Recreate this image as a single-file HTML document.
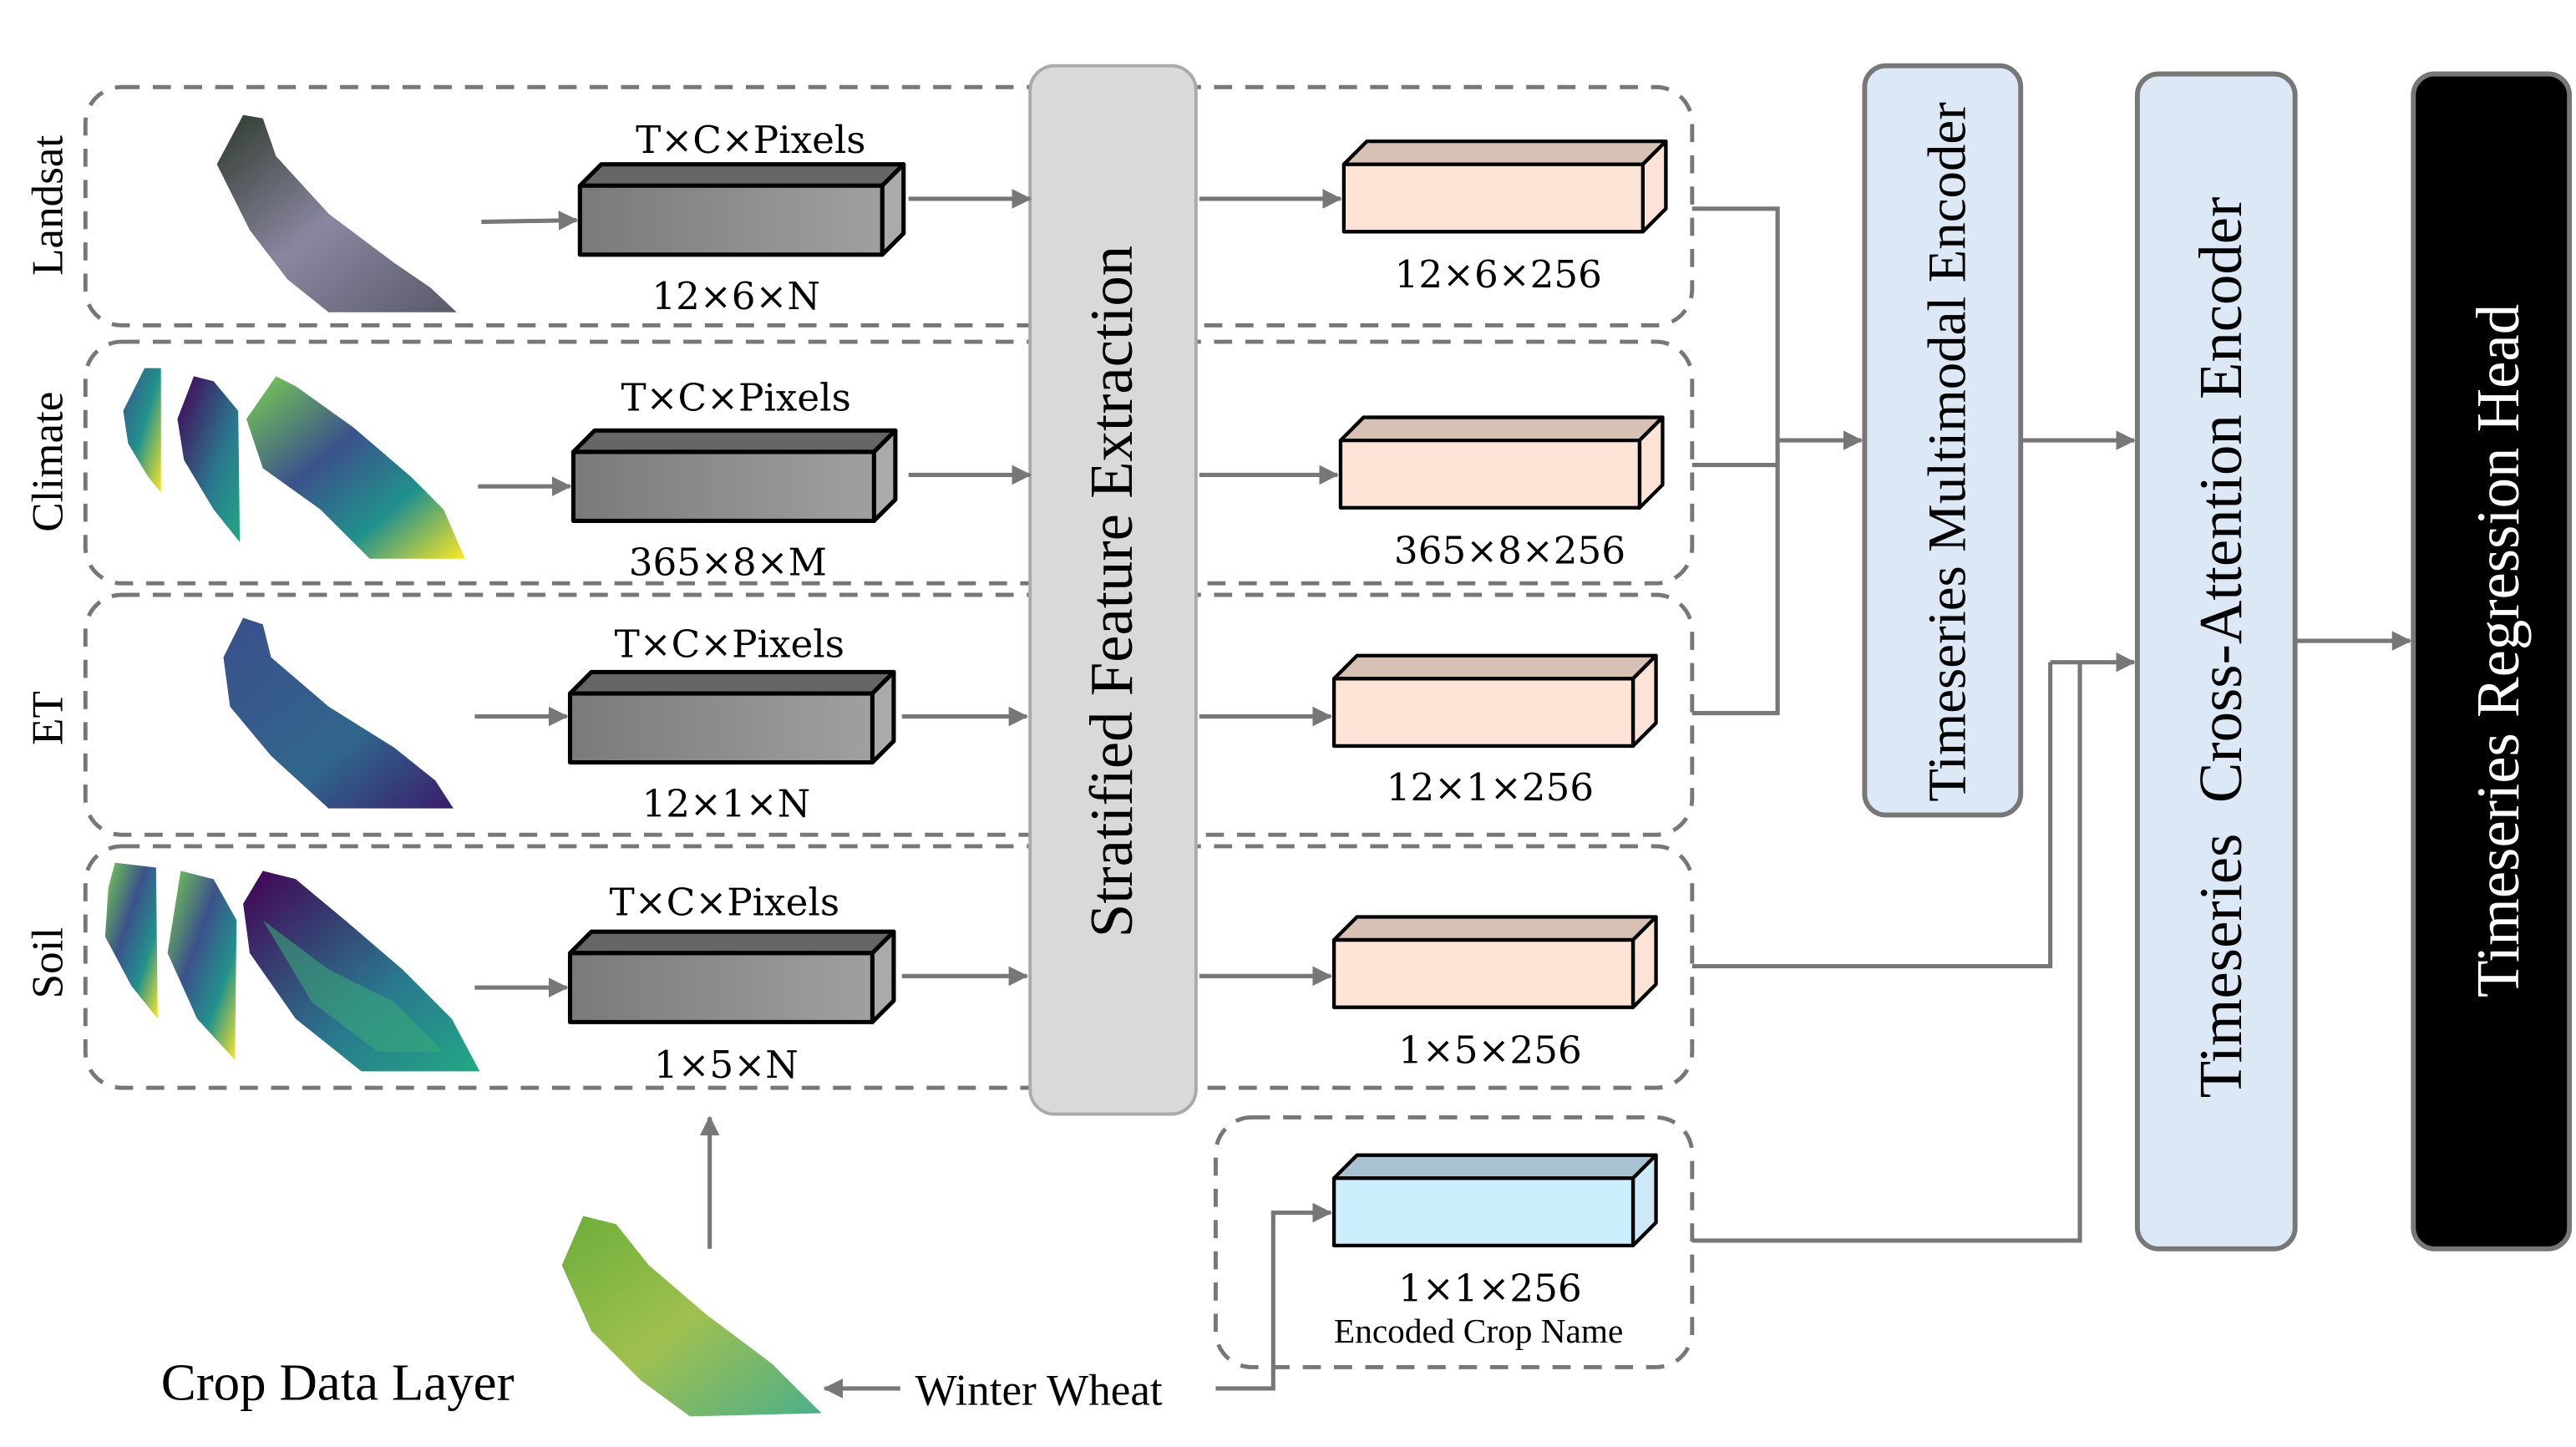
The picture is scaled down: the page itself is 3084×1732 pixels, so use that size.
<!DOCTYPE html>
<html><head><meta charset="utf-8"><style>html,body{margin:0;padding:0;background:#fff;}svg{display:block}</style></head>
<body>
<svg xmlns="http://www.w3.org/2000/svg" width="3084" height="1732" viewBox="0 0 1568 880.6" preserveAspectRatio="none" font-family="'Liberation Serif', serif">
<defs>
<linearGradient id="gf" x1="0" x2="1"><stop offset="0" stop-color="#7a7a7a"/><stop offset="1" stop-color="#a0a0a0"/></linearGradient>
<linearGradient id="vir" x1="0" y1="0" x2="1" y2="1"><stop offset="0" stop-color="#3b528b"/><stop offset="0.5" stop-color="#21918c"/><stop offset="1" stop-color="#fde725"/></linearGradient>
<linearGradient id="vir2" x1="0" y1="0" x2="1" y2="1"><stop offset="0" stop-color="#440154"/><stop offset="0.6" stop-color="#2a788e"/><stop offset="1" stop-color="#22a884"/></linearGradient>
<linearGradient id="vir3" x1="0" y1="0" x2="1" y2="1"><stop offset="0" stop-color="#7ad151"/><stop offset="0.4" stop-color="#3b528b"/><stop offset="0.7" stop-color="#21918c"/><stop offset="1" stop-color="#fde725"/></linearGradient>
<linearGradient id="sat" x1="0" y1="0" x2="1" y2="1"><stop offset="0" stop-color="#2e3a2c"/><stop offset="0.5" stop-color="#8a86a0"/><stop offset="1" stop-color="#5a5a6a"/></linearGradient>
<linearGradient id="et" x1="0" y1="0" x2="1" y2="1"><stop offset="0" stop-color="#3b4f8b"/><stop offset="0.6" stop-color="#30668d"/><stop offset="1" stop-color="#3a1d6b"/></linearGradient>
<linearGradient id="cdl" x1="0" y1="0" x2="1" y2="1"><stop offset="0" stop-color="#6cae3a"/><stop offset="0.5" stop-color="#a0c050"/><stop offset="1" stop-color="#4caf8a"/></linearGradient>
<marker id="ar2" markerWidth="12" markerHeight="12" refX="11" refY="6" orient="auto" markerUnits="userSpaceOnUse"><path d="M0,0 L12,6 L0,12 z" fill="#777"/></marker>
</defs>

<g fill="none" stroke="#777" stroke-width="2.5" stroke-dasharray="11,8">
<rect x="52" y="53" width="978" height="145" rx="22"/>
<rect x="52" y="208" width="978" height="147" rx="22"/>
<rect x="52" y="362" width="978" height="146" rx="22"/>
<rect x="52" y="515" width="978" height="147" rx="22"/>
<rect x="740" y="680" width="290" height="152" rx="22"/>
</g>

<g font-size="27" text-anchor="middle" fill="#000">
<text transform="translate(38,125) rotate(-90)">Landsat</text>
<text transform="translate(38,281) rotate(-90)">Climate</text>
<text transform="translate(38,437) rotate(-90)">ET</text>
<text transform="translate(38,586) rotate(-90)">Soil</text>
</g>

<path d="M148,70 L160,72 L168,95 L200,130 L240,160 L262,175 L278,190 L200,190 L175,170 L152,140 L132,100 Z" fill="url(#sat)"/>
<path d="M88,224 L98,224 L98,300 L90,290 L78,270 L75,250 Z" fill="url(#vir)"/>
<path d="M118,229 L130,232 L145,250 L146,330 L130,310 L112,280 L108,255 Z" fill="url(#vir2)"/>
<path d="M168,229 L180,235 L215,260 L250,290 L270,310 L283,340 L225,340 L195,310 L160,285 L150,255 Z" fill="url(#vir3)"/>
<path d="M148,376 L160,380 L165,400 L200,430 L240,455 L265,475 L276,492 L200,492 L165,460 L140,430 L136,400 Z" fill="url(#et)"/>
<path d="M70,525 L95,528 L96,620 L80,600 L64,570 L66,540 Z" fill="url(#vir3)"/>
<path d="M110,530 L130,535 L144,560 L143,645 L120,620 L102,580 Z" fill="url(#vir3)"/>
<path d="M160,530 L180,535 L210,560 L245,590 L275,620 L292,652 L220,652 L180,620 L152,580 L148,550 Z" fill="url(#vir2)"/>
<path d="M160,560 L200,590 L240,610 L270,640 L230,640 L190,610 Z" fill="#3aa77a" opacity="0.6"/>
<path d="M355,740 L375,745 L395,770 L430,800 L470,830 L500,860 L420,862 L390,840 L360,810 L342,770 Z" fill="url(#cdl)"/>

<g stroke="#000" stroke-width="2.6" stroke-linejoin="round">
<path d="M353,113 L366,100 L550,100 L537,113 Z" fill="#666"/><path d="M537,113 L550,100 L550,142 L537,155 Z" fill="#aaa"/><rect x="353" y="113" width="184" height="42" fill="url(#gf)"/>
<path d="M349,275 L362,262 L545,262 L532,275 Z" fill="#666"/><path d="M532,275 L545,262 L545,304 L532,317 Z" fill="#aaa"/><rect x="349" y="275" width="183" height="42" fill="url(#gf)"/>
<path d="M347,422 L360,409 L544,409 L531,422 Z" fill="#666"/><path d="M531,422 L544,409 L544,451 L531,464 Z" fill="#aaa"/><rect x="347" y="422" width="184" height="42" fill="url(#gf)"/>
<path d="M347,580 L360,567 L544,567 L531,580 Z" fill="#666"/><path d="M531,580 L544,567 L544,609 L531,622 Z" fill="#aaa"/><rect x="347" y="580" width="184" height="42" fill="url(#gf)"/>
</g>
<g stroke="#000" stroke-width="2.2" stroke-linejoin="round">
<path d="M818,100 L832,86 L1014,86 L1000,100 Z" fill="#d7c0b4"/><path d="M1000,100 L1014,86 L1014,127 L1000,141 Z" fill="#fce3d6"/><rect x="818" y="100" width="182" height="41" fill="#fde4d6"/>
<path d="M816,268 L830,254 L1012,254 L998,268 Z" fill="#d7c0b4"/><path d="M998,268 L1012,254 L1012,295 L998,309 Z" fill="#fce3d6"/><rect x="816" y="268" width="182" height="41" fill="#fde4d6"/>
<path d="M812,413 L826,399 L1008,399 L994,413 Z" fill="#d7c0b4"/><path d="M994,413 L1008,399 L1008,440 L994,454 Z" fill="#fce3d6"/><rect x="812" y="413" width="182" height="41" fill="#fde4d6"/>
<path d="M812,572 L826,558 L1008,558 L994,572 Z" fill="#d7c0b4"/><path d="M994,572 L1008,558 L1008,599 L994,613 Z" fill="#fce3d6"/><rect x="812" y="572" width="182" height="41" fill="#fde4d6"/>
<path d="M812,717 L826,703 L1008,703 L994,717 Z" fill="#a9c2d2"/><path d="M994,717 L1008,703 L1008,744 L994,758 Z" fill="#cde9f8"/><rect x="812" y="717" width="182" height="41" fill="#cdeefc"/>
</g>

<g font-family="'DejaVu Serif', 'Liberation Serif', serif" font-size="23" text-anchor="middle" fill="#000">
<text x="457" y="93">T×C×Pixels</text><text x="448" y="188">12×6×N</text>
<text x="448" y="250">T×C×Pixels</text><text x="443" y="350">365×8×M</text>
<text x="444" y="400">T×C×Pixels</text><text x="442" y="497">12×1×N</text>
<text x="441" y="557">T×C×Pixels</text><text x="442" y="656">1×5×N</text>
<text x="912" y="175">12×6×256</text>
<text x="919" y="343">365×8×256</text>
<text x="907" y="487">12×1×256</text>
<text x="907" y="647">1×5×256</text>
<text x="907" y="792">1×1×256</text>
<text x="900" y="817" font-size="21" font-family="'Liberation Serif', serif">Encoded Crop Name</text>
</g>

<rect x="627" y="40" width="101" height="638" rx="15" fill="#d9d9d9" stroke="#aaa" stroke-width="2"/>
<text transform="translate(689,360) rotate(-90)" font-size="37" text-anchor="middle">Stratified Feature Extraction</text>

<rect x="1135" y="40" width="95" height="456" rx="13" fill="#dce8f5" stroke="#777" stroke-width="3"/>
<text transform="translate(1196,275) rotate(-90)" font-size="33" text-anchor="middle">Timeseries Multimodal Encoder</text>
<rect x="1301" y="45" width="96" height="715" rx="13" fill="#dce8f5" stroke="#777" stroke-width="3"/>
<text transform="translate(1364,394) rotate(-90)" font-size="37" text-anchor="middle" xml:space="preserve">Timeseries  Cross-Attention Encoder</text>
<rect x="1469" y="45" width="95" height="715" rx="13" fill="#000" stroke="#777" stroke-width="3"/>
<text transform="translate(1533,396) rotate(-90)" font-size="37" text-anchor="middle" fill="#fff">Timeseries Regression Head</text>

<g stroke="#777" stroke-width="2.6" fill="none">
<line x1="293" y1="135" x2="351" y2="134" marker-end="url(#ar2)"/>
<line x1="291" y1="296" x2="347" y2="296" marker-end="url(#ar2)"/>
<line x1="289" y1="436" x2="345" y2="436" marker-end="url(#ar2)"/>
<line x1="289" y1="601" x2="345" y2="601" marker-end="url(#ar2)"/>
<line x1="553" y1="121" x2="627" y2="121" marker-end="url(#ar2)"/>
<line x1="553" y1="289" x2="627" y2="289" marker-end="url(#ar2)"/>
<line x1="549" y1="436" x2="625" y2="436" marker-end="url(#ar2)"/>
<line x1="549" y1="594" x2="625" y2="594" marker-end="url(#ar2)"/>
<line x1="730" y1="121" x2="816" y2="121" marker-end="url(#ar2)"/>
<line x1="730" y1="289" x2="814" y2="289" marker-end="url(#ar2)"/>
<line x1="730" y1="436" x2="810" y2="436" marker-end="url(#ar2)"/>
<line x1="730" y1="594" x2="810" y2="594" marker-end="url(#ar2)"/>
<polyline points="1030,127 1082,127 1082,434 1030,434"/>
<line x1="1030" y1="283" x2="1082" y2="283"/>
<line x1="1082" y1="268" x2="1133" y2="268" marker-end="url(#ar2)"/>
<line x1="1230" y1="268" x2="1299" y2="268" marker-end="url(#ar2)"/>
<polyline points="1030,588 1248,588 1248,403"/>
<polyline points="1030,755 1266,755 1266,403"/>
<line x1="1248" y1="403" x2="1299" y2="403" marker-end="url(#ar2)"/>
<line x1="1397" y1="390" x2="1467" y2="390" marker-end="url(#ar2)"/>
<line x1="432" y1="760" x2="432" y2="680" marker-end="url(#ar2)"/>
<line x1="548" y1="845" x2="502" y2="845" marker-end="url(#ar2)"/>
<polyline points="740,845 775,845 775,738 810,738" marker-end="url(#ar2)"/>
</g>

<text x="98" y="852" font-size="32">Crop Data Layer</text>
<text x="557" y="855" font-size="27">Winter Wheat</text>
</svg>
</body></html>
